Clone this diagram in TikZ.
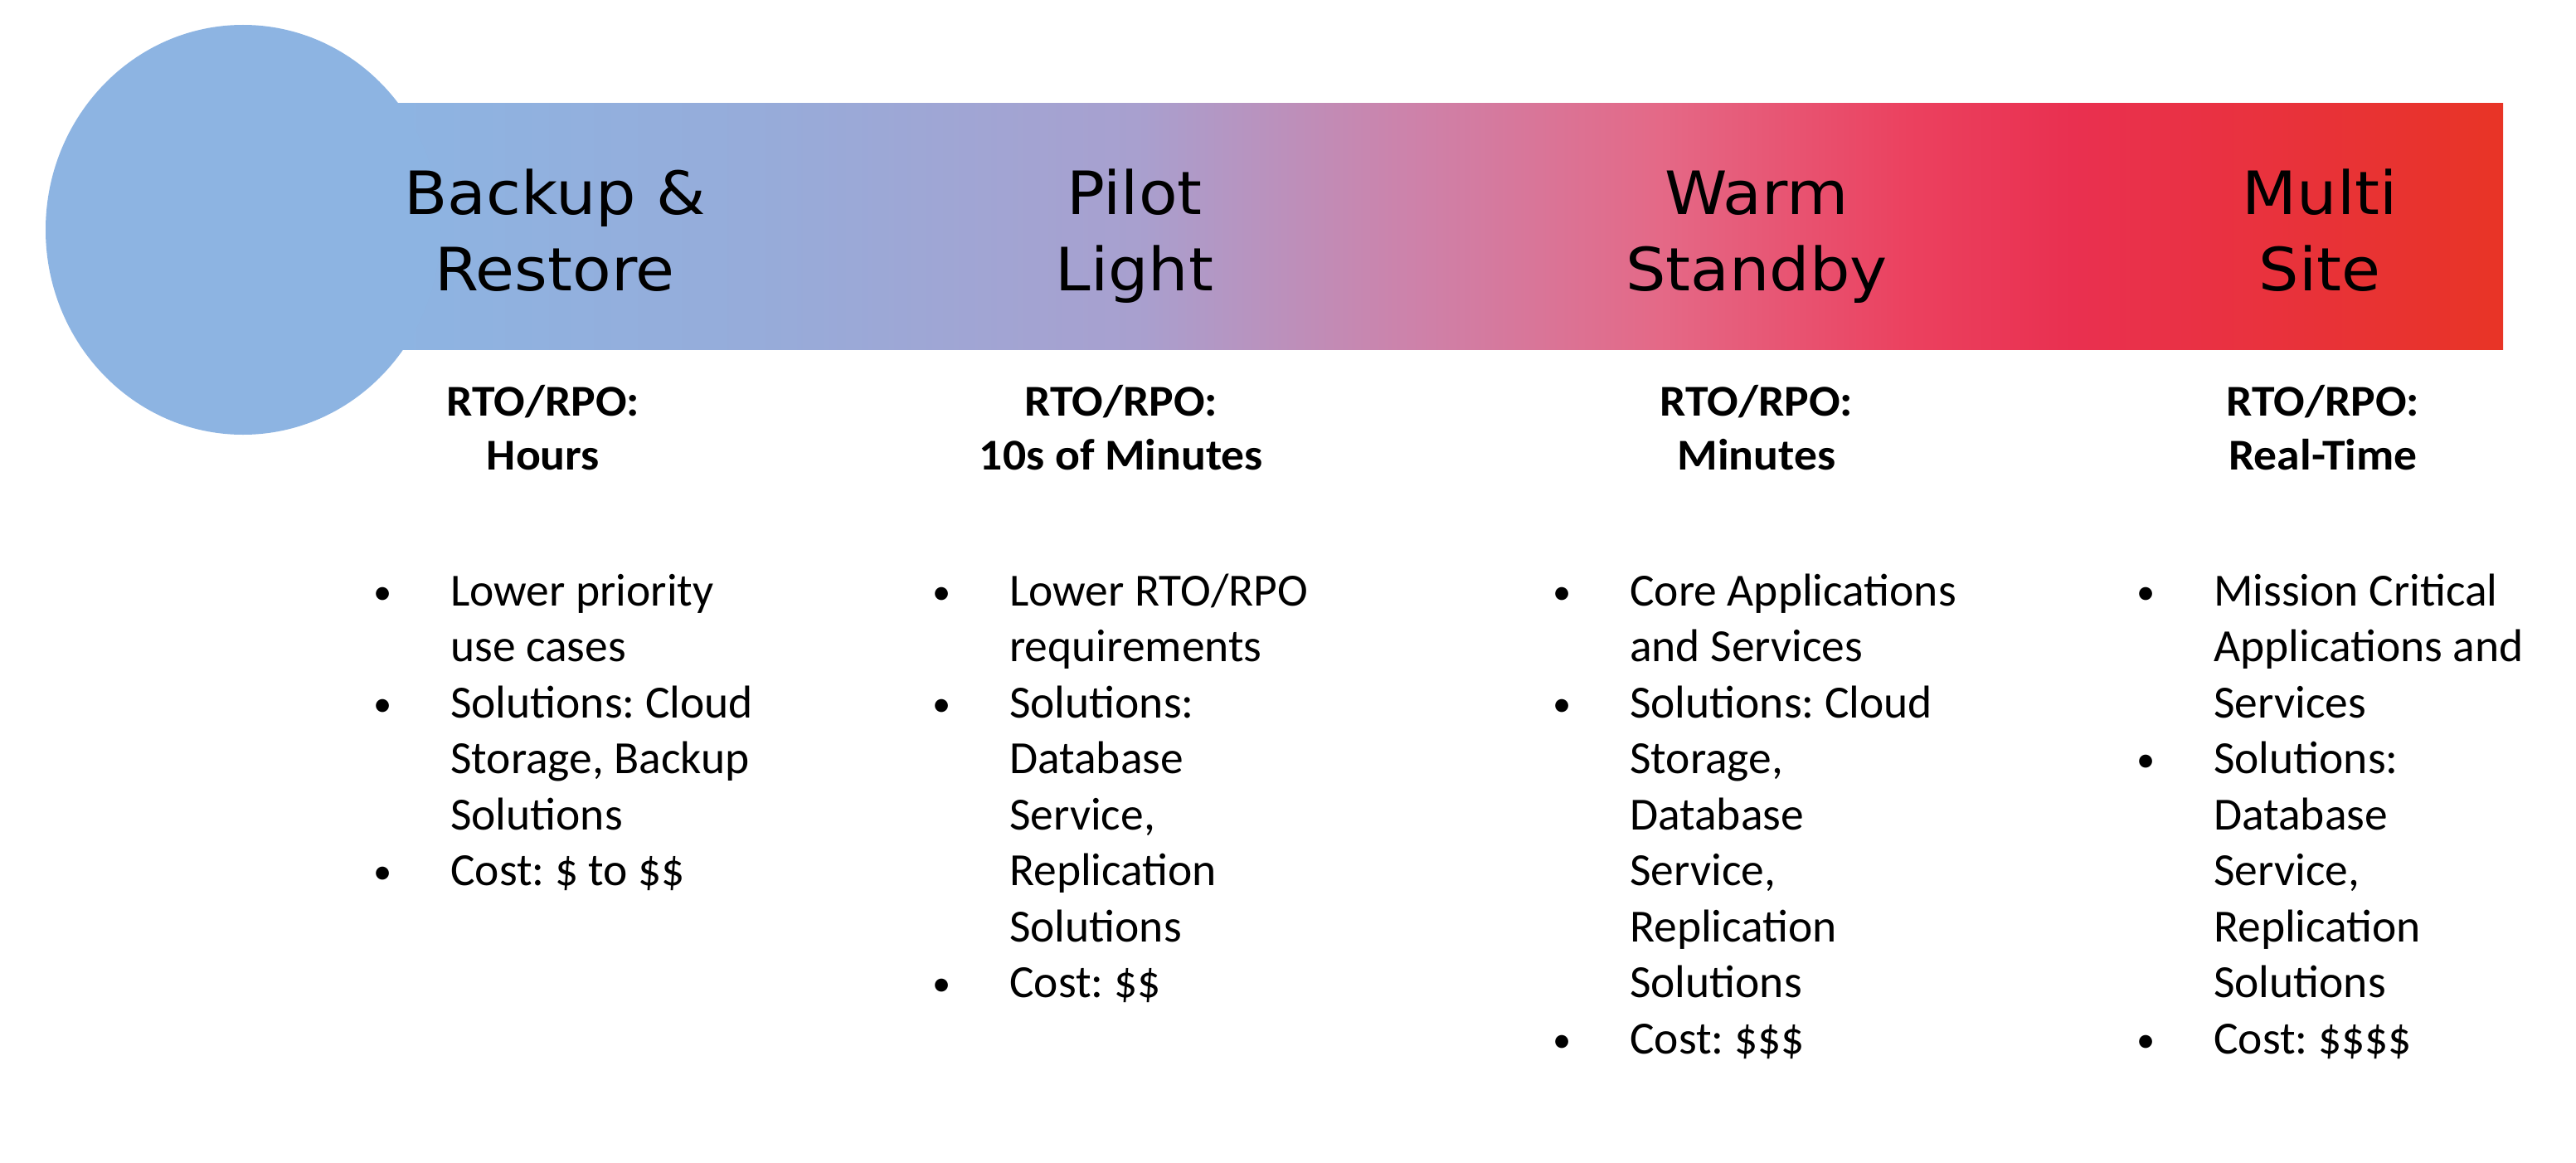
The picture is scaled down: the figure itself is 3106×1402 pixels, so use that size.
\documentclass[tikz,border=0pt]{standalone}
\usepackage{fontspec}
\setmainfont{Carlito}
\newfontfamily\headfamily[FakeStretch=1.06]{DejaVu Sans}
\newfontfamily\rtofamily[FakeStretch=1.05]{Carlito}

% colours of the strategy bar, light blue to red
\definecolor{capblue}{RGB}{141,180,226}
\definecolor{barA}{RGB}{150,172,218}
\definecolor{barB}{RGB}{168,160,207}
\definecolor{barC}{RGB}{205,130,170}
\definecolor{barD}{RGB}{228,105,135}
\definecolor{barE}{RGB}{235,65,95}
\definecolor{barF}{RGB}{233,48,80}
\definecolor{barG}{RGB}{232,52,38}

% the middle 50bp of the shading are stretched over the bar
\pgfdeclarehorizontalshading{barshade}{100bp}{%
  color(0bp)=(capblue); color(25bp)=(capblue);
  color(33.4bp)=(barA); color(42.6bp)=(barB); color(49.1bp)=(barC);
  color(55bp)=(barD); color(60.9bp)=(barE); color(64.8bp)=(barF);
  color(75bp)=(barG); color(100bp)=(barG)}

\newcommand\bul{\makebox[82pt][l]{\makebox[0pt]{\raisebox{2pt}{\scalebox{0.8}{\textbullet}}}}}

\tikzset{
  head/.style={font=\headfamily\fontsize{72}{92}\selectfont, inner sep=0pt, anchor=base},
  rto/.style={font=\rtofamily\bfseries\fontsize{53}{65}\selectfont, inner sep=0pt, anchor=base},
  items/.style={font=\fontsize{55.5}{67.5}\selectfont, inner sep=0pt, anchor=base west}
}

\begin{document}
\frenchspacing
\begin{tikzpicture}[x=1pt,y=-1pt]
\useasboundingbox (0,0) rectangle (3106,1402);
\fill[white] (0,0) rectangle (3106,1402);

% gradient bar and the round cap at its left end
\shade[shading=barshade] (475,125) rectangle (3018,421);
\fill[capblue] (293,277) ellipse [x radius=238pt, y radius=247pt];

% stage titles
\node[head] (t1) at (669,258) {\begin{tabular}[t]{@{}c@{}}Backup \&\\Restore\end{tabular}};
\node[head] (t2) at (1368,258) {\begin{tabular}[t]{@{}c@{}}Pilot\\Light\end{tabular}};
\node[head] (t3) at (2118,258) {\begin{tabular}[t]{@{}c@{}}Warm\\Standby\end{tabular}};
\node[head] (t4) at (2797,258) {\begin{tabular}[t]{@{}c@{}}Multi\\Site\end{tabular}};

% recovery objectives
\node[rto] (r1) at (655,501) {\begin{tabular}[t]{@{}c@{}}RTO/RPO:\\Hours\end{tabular}};
\node[rto] (r2) at (1352,501) {\begin{tabular}[t]{@{}c@{}}RTO/RPO:\\10s of Minutes\end{tabular}};
\node[rto] (r3) at (2118,501) {\begin{tabular}[t]{@{}c@{}}RTO/RPO:\\Minutes\end{tabular}};
\node[rto] (r4) at (2801,501) {\begin{tabular}[t]{@{}c@{}}RTO/RPO:\\Real-Time\end{tabular}};

% bullet lists
\node[items] (l1) at (461,730) {\begin{tabular}[t]{@{}l@{}l@{}}
\bul & Lower priority\\
     & use cases\\
\bul & Solutions: Cloud\\
     & Storage, Backup\\
     & Solutions\\
\bul & Cost: \$ to \$\$
\end{tabular}};
\node[items] (l2) at (1135,730) {\begin{tabular}[t]{@{}l@{}l@{}}
\bul & Lower RTO/RPO\\
     & requirements\\
\bul & Solutions:\\
     & Database\\
     & Service,\\
     & Replication\\
     & Solutions\\
\bul & Cost: \$\$
\end{tabular}};
\node[items] (l3) at (1883,730) {\begin{tabular}[t]{@{}l@{}l@{}}
\bul & Core Applications\\
     & and Services\\
\bul & Solutions: Cloud\\
     & Storage,\\
     & Database\\
     & Service,\\
     & Replication\\
     & Solutions\\
\bul & Cost: \$\$\$
\end{tabular}};
\node[items] (l4) at (2587,730) {\begin{tabular}[t]{@{}l@{}l@{}}
\bul & Mission Critical\\
     & Applications and\\
     & Services\\
\bul & Solutions:\\
     & Database\\
     & Service,\\
     & Replication\\
     & Solutions\\
\bul & Cost: \$\$\$\$
\end{tabular}};
\end{tikzpicture}
\end{document}
